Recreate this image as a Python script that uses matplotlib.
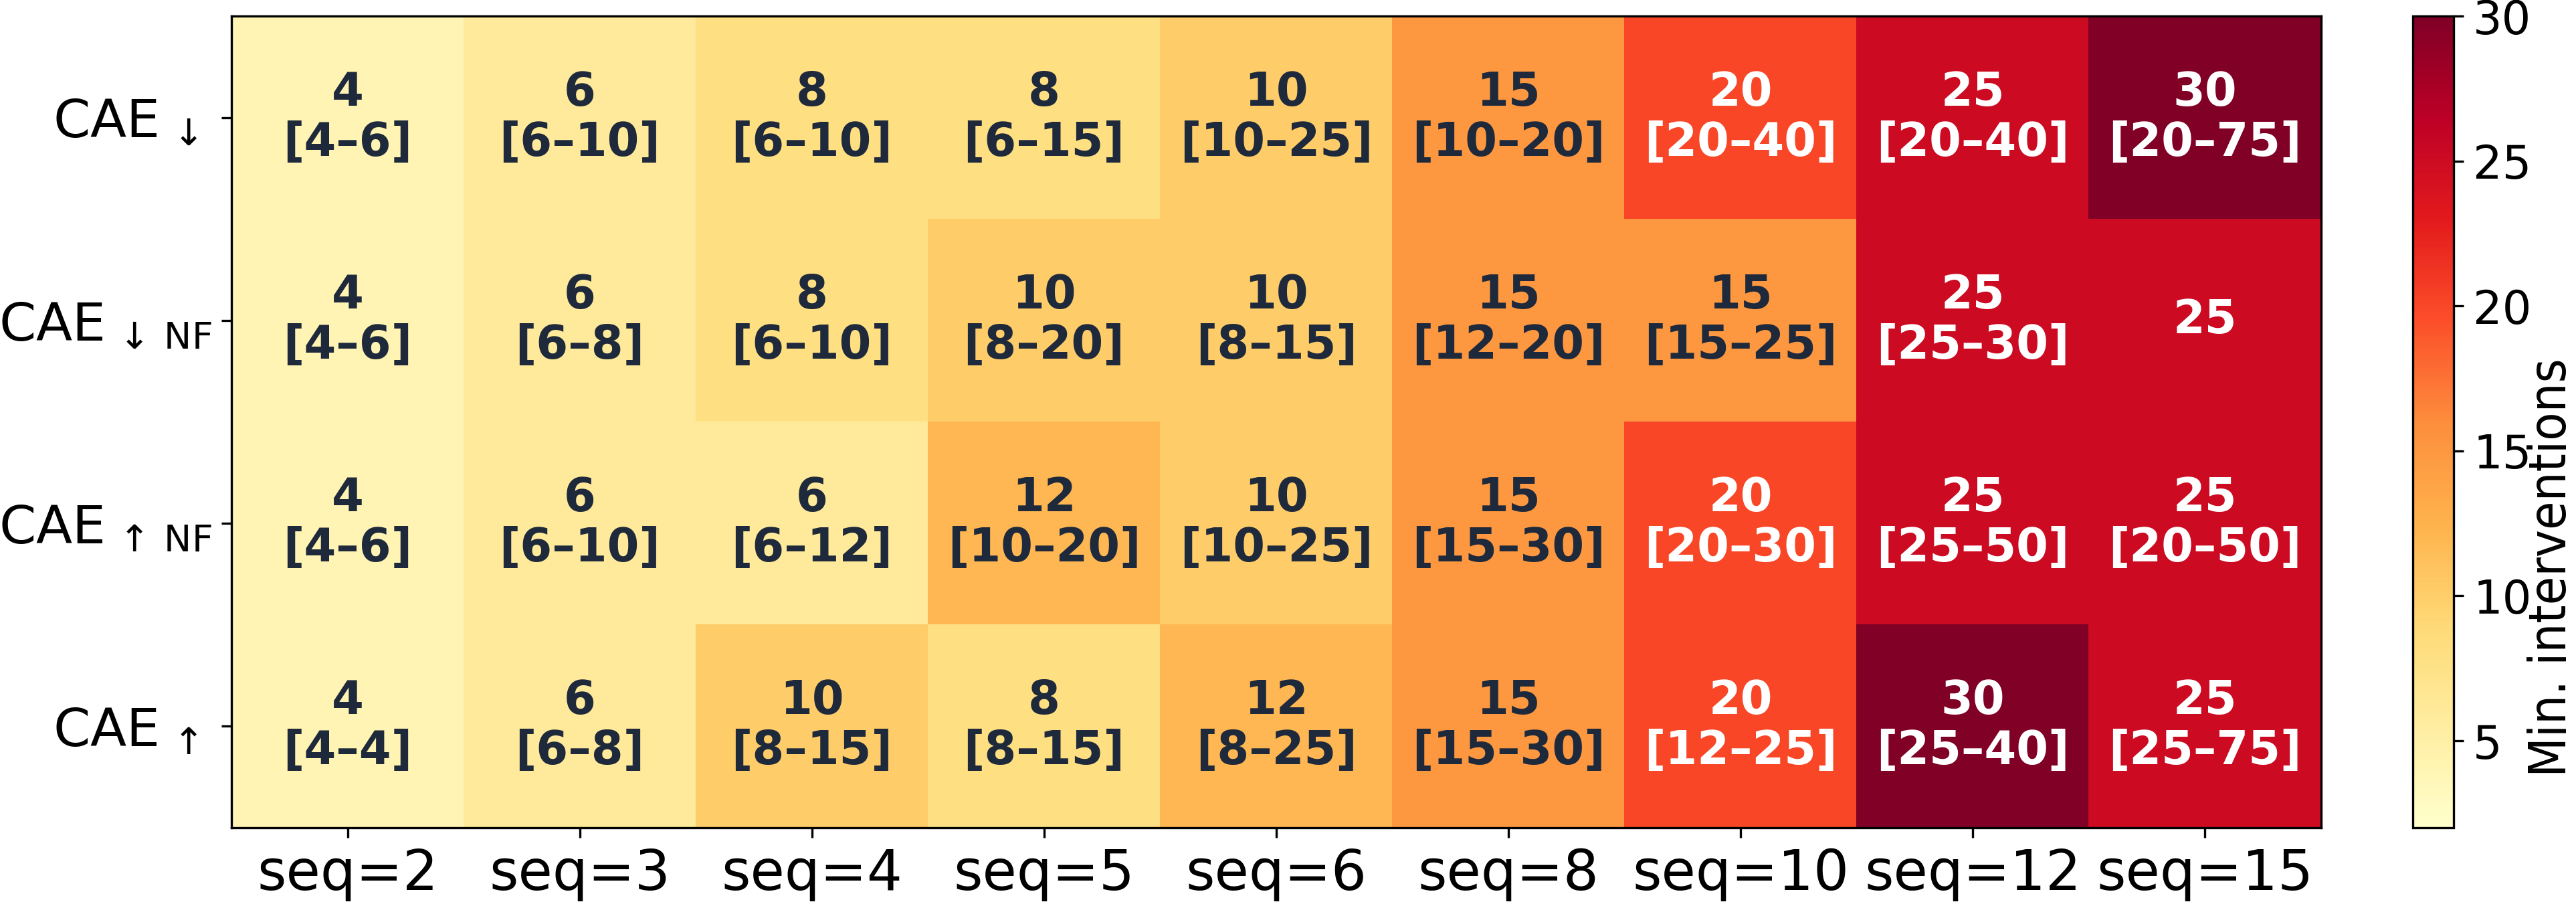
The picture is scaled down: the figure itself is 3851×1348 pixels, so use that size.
import matplotlib
matplotlib.use("Agg")
import matplotlib.pyplot as plt
import matplotlib.transforms as mtransforms
import numpy as np

plt.rcParams['font.family'] = ['DejaVu Sans']
plt.rcParams['mathtext.fontset'] = 'dejavusans'

seq_labels = ["seq=2", "seq=3", "seq=4", "seq=5", "seq=6", "seq=8", "seq=10", "seq=12", "seq=15"]
row_labels = [r"$\mathrm{CAE}_{\hspace{0.15}\downarrow}$",
              r"$\mathrm{CAE}_{\hspace{0.15}\downarrow\hspace{0.2}\mathrm{NF}}$",
              r"$\mathrm{CAE}_{\hspace{0.15}\uparrow\hspace{0.2}\mathrm{NF}}$",
              r"$\mathrm{CAE}_{\hspace{0.15}\uparrow}$"]

cae_down = [4, 6, 8, 8, 10, 15, 20, 25, 30]
cae_down_nf = [4, 6, 8, 10, 10, 15, 15, 25, 25]
cae_up_nf = [4, 6, 6, 12, 10, 15, 20, 25, 25]
cae_up = [4, 6, 10, 8, 12, 15, 20, 30, 25]

rng_down = ["4–6", "6–10", "6–10", "6–15", "10–25", "10–20", "20–40", "20–40", "20–75"]
rng_down_nf = ["4–6", "6–8", "6–10", "8–20", "8–15", "12–20", "15–25", "25–30", ""]
rng_up_nf = ["4–6", "6–10", "6–12", "10–20", "10–25", "15–30", "20–30", "25–50", "20–50"]
rng_up = ["4–4", "6–8", "8–15", "8–15", "8–25", "15–30", "12–25", "25–40", "25–75"]

values = np.array([cae_down, cae_down_nf, cae_up_nf, cae_up], dtype=float)
ranges = [rng_down, rng_down_nf, rng_up_nf, rng_up]

W, H = 3851, 1348
dpi = 300
fig = plt.figure(figsize=(W / dpi, H / dpi), dpi=dpi)
ax = fig.add_axes([346 / W, 1 - 1237 / H, (3470 - 346) / W, (1237 - 24) / H])
cax = fig.add_axes([3607 / W, 1 - 1237 / H, 61 / W, (1237 - 24) / H])

im = ax.imshow(values, cmap="YlOrRd", vmin=2, vmax=30, aspect="auto", interpolation="nearest")

for i in range(values.shape[0]):
    for j in range(values.shape[1]):
        v = values[i, j]
        r = ranges[i][j]
        txt = f"{int(v)}\n[{r}]" if r else f"{int(v)}"
        color = "white" if v > 15 else "#1e293b"
        ax.text(j, i, txt, ha="center", va="center", fontsize=16.5,
                fontweight="bold", color=color, linespacing=1.15)

ax.set_xticks(range(len(seq_labels)))
ax.set_xticklabels(seq_labels, fontsize=20)
ax.set_yticks(range(len(row_labels)))
ax.set_yticklabels(row_labels, fontsize=19)
# short labels sit a little further left in the reference
for k, lab in enumerate(ax.get_yticklabels()):
    if "NF" not in row_labels[k]:
        lab.set_transform(lab.get_transform() +
                          mtransforms.ScaledTranslation(-22 / dpi, 0, fig.dpi_scale_trans))

cb = fig.colorbar(im, cax=cax)
cb.set_ticks([5, 10, 15, 20, 25, 30])
cb.ax.tick_params(labelsize=16.5)
fig.text(3836 / W, 1 - 848 / H, "Min. interventions", rotation=90, fontsize=18.5,
         rotation_mode="anchor", ha="center", va="baseline", fontstretch="condensed")

fig.savefig("out.png", dpi=dpi)
